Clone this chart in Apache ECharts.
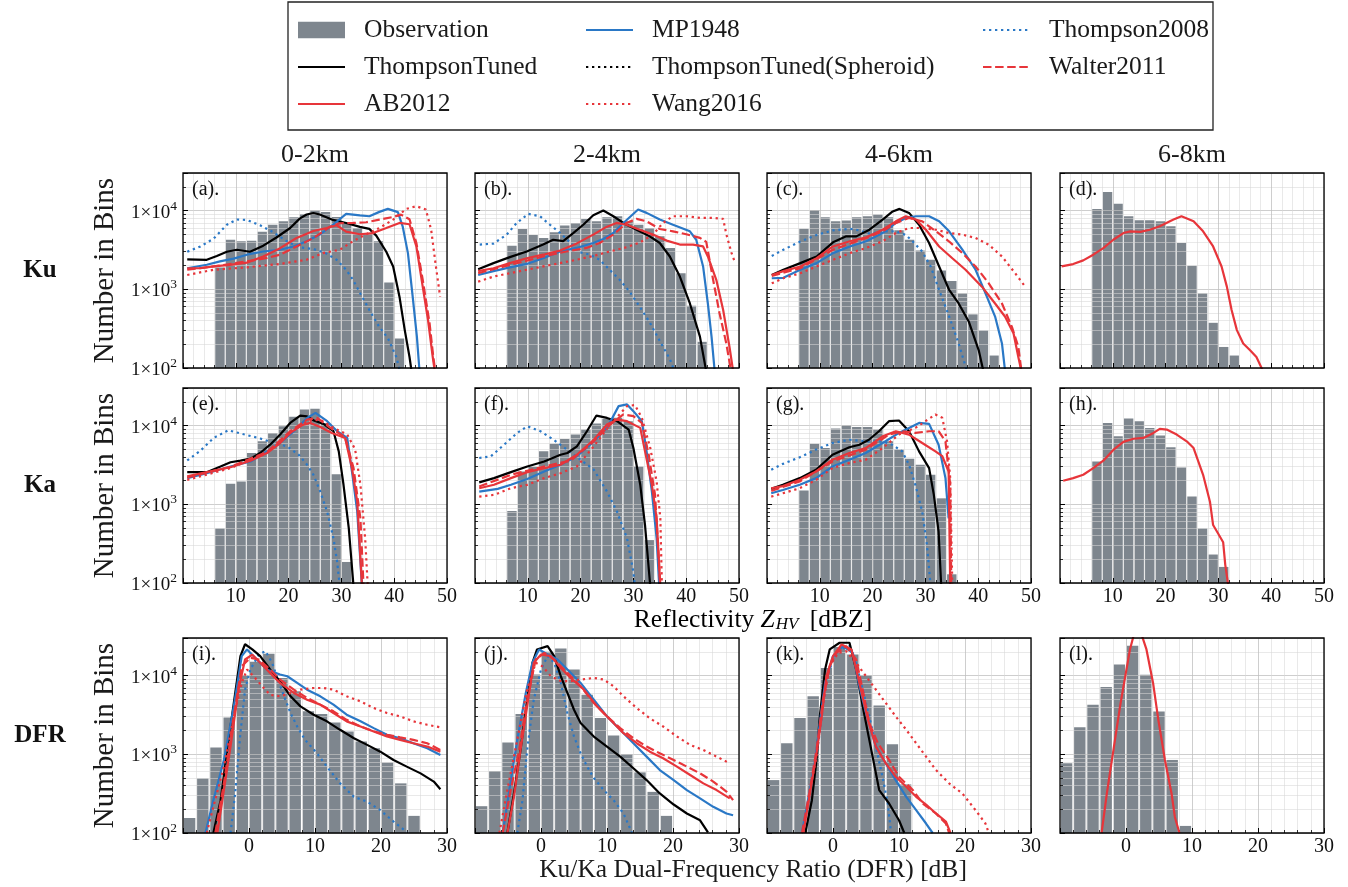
<!DOCTYPE html>
<html>
<head>
<meta charset="utf-8">
<script src="https://cdn.jsdelivr.net/npm/echarts@6/dist/echarts.min.js"></script>
<style>
  html, body { margin: 0; padding: 0; background: #ffffff; }
  #chart { width: 1348px; height: 887px; }
</style>
</head>
<body>
<div id="chart"></div>
<script>
// ---------- histogram bin centres ----------
const zBinCentres = [7, 9, 11, 13, 15, 17, 19, 21, 23, 25, 27, 29, 31, 33, 35, 37, 39, 41, 43];
const dfrBinCentres = [-9, -7, -5, -3, -1, 1, 3, 5, 7, 9, 11, 13, 15, 17, 19, 21, 23, 25, 27];

// ---------- observed counts (one value per bin, starting at the first centre) ----------
const obsKu02 = [1890, 4270, 4080, 4150, 5370, 6600, 7300, 8220, 9060, 10000, 9620, 8300, 6970, 6010, 5190, 4070, 1217, 237];
const obsKu24 = [3570, 5830, 4890, 4480, 5290, 6440, 6970, 7830, 7310, 8230, 8470, 7310, 6620, 6010, 4700, 3340, 1600, 618, 215];
const obsKu46 = [5890, 10090, 8230, 7310, 7450, 8230, 8470, 8890, 8200, 5610, 4270, 3120, 2370, 1730, 1276, 889, 480, 300, 144];
const obsKu68 = [10500, 17150, 12160, 8470, 7530, 7530, 7310, 6310, 3865, 1990, 889, 375, 185, 144];
const obsKa02 = [494, 1820, 1945, 4480, 6310, 8050, 9800, 12900, 16000, 16330, 10810, 2415, 185];
const obsKa24 = [822, 2600, 3000, 4700, 5890, 6760, 7680, 8890, 10600, 12160, 12530, 11360, 3030, 351];
const obsKa46 = [1500, 5890, 5190, 9170, 10000, 9620, 9620, 8940, 6310, 4950, 3800, 3170, 2366, 1190, 129];
const obsKa68 = [3505, 10800, 7310, 12280, 11360, 9340, 7450, 5290, 2940, 1253, 494, 230, 160];
const obsDfr02 = [155, 494, 1217, 2940, 10000, 15000, 18900, 9340, 6310, 3510, 3245, 2540, 1945, 1452, 1194, 784, 427, 165];
const obsDfr24 = [219, 612, 1408, 3245, 10300, 20000, 22000, 11930, 5710, 2880, 1730, 1000, 589, 333, 165];
const obsDfr46 = [470, 1380, 2880, 5450, 12500, 23000, 18500, 10000, 4180, 1343, 414];
const obsDfr68 = [767, 2210, 4260, 7180, 13800, 24000, 10270, 3500, 847, 123];

// ---------- simulated distributions: [x, count] ----------
// Ku 0-2 km
const ku02_Thompson2008 = [[0.8,3000],[3.3,3500],[5.8,4400],[8.3,6600],[10.2,7700],[12.1,7600],[14.6,6500],[17.1,5300],[19.6,4100],[22.1,3400],[24.7,3250],[27.0,2880],[29.1,2370],[30.9,1770],[32.2,1320],[33.8,830],[35.3,545],[37.2,330],[38.8,240],[40.4,138],[41.1,90]];
const ku02_ThompsonTuned = [[0.8,2400],[4.5,2370],[6.4,2650],[8.3,3000],[10.2,3180],[12.7,3000],[15.2,3580],[17.7,4550],[20.3,6000],[22.1,7900],[23.4,8900],[24.7,9300],[25.9,8900],[28.4,7600],[30.9,6960],[33.5,6200],[35.3,5850],[36.6,4800],[38.5,3000],[39.8,1950],[41.0,805],[42.0,303],[42.9,138],[43.3,90]];
const ku02_MP1948 = [[0.8,1850],[4.5,2050],[7.0,2260],[9.6,2450],[12.1,2750],[15.2,3020],[18.4,3180],[20.9,3500],[23.4,4080],[25.9,4950],[28.4,6600],[30.9,9070],[33.5,8700],[35.3,8470],[37.2,9620],[38.8,10500],[40.7,9560],[41.6,6310],[42.6,2880],[43.5,805],[44.3,249],[44.8,90]];
const ku02_AB2012 = [[0.8,1850],[3.3,1850],[5.8,1950],[8.9,2040],[12.1,2180],[15.2,2610],[18.4,3330],[21.5,4480],[24.7,5500],[27.2,6000],[29.1,6500],[30.9,5400],[33.5,5000],[36.0,5180],[38.5,6000],[41.0,6960],[42.9,6700],[44.2,3500],[45.4,1080],[46.4,410],[47.3,138],[47.7,90]];
const ku02_Walter2011 = [[0.8,1770],[5.8,1950],[12.1,2260],[15.9,2500],[18.4,2750],[21.5,3500],[24.7,4480],[27.8,6200],[29.7,6900],[32.2,6960],[34.7,7100],[37.2,7680],[39.8,8300],[41.3,8880],[42.9,7750],[44.2,3870],[45.4,1320],[46.7,370],[47.4,138],[47.8,90]];
const ku02_Wang2016 = [[0.8,1520],[5.8,1770],[12.1,1900],[18.4,2100],[23.4,2370],[26.5,2880],[29.7,3180],[32.2,4080],[34.7,5000],[37.2,6000],[39.8,7680],[42.3,10500],[44.2,11360],[46.0,10300],[47.0,5700],[47.9,1950],[48.7,805]];
// Ku 2-4 km
const ku24_Thompson2008 = [[0.9,3700],[3.5,3800],[6.0,4950],[7.9,6960],[10.1,9070],[12.3,8470],[14.2,6600],[16.1,5200],[18.0,3940],[19.9,2950],[21.8,2750],[23.6,2370],[25.5,1770],[27.4,1320],[29.3,930],[31.2,600],[33.1,380],[35.0,220],[36.9,130],[37.8,90]];
const ku24_ThompsonTuned = [[0.6,1800],[3.5,2150],[6.6,2560],[9.8,3020],[12.9,3700],[14.8,4260],[16.7,4080],[18.6,5180],[20.5,6600],[22.4,8700],[24.3,10000],[26.2,8470],[28.1,6960],[30.6,5700],[33.1,4700],[35.0,3870],[36.9,2610],[38.8,1450],[40.7,660],[42.6,250],[43.8,90]];
const ku24_MP1948 = [[0.6,1520],[3.5,1700],[6.6,1900],[9.8,2100],[12.9,2480],[16.1,3020],[19.2,3350],[22.4,3870],[24.3,4360],[26.2,5180],[28.1,6960],[29.6,8600],[30.9,10300],[32.5,9340],[35.0,7680],[37.5,6600],[40.7,5450],[41.9,4260],[43.2,1950],[44.1,660],[44.8,250],[45.4,90]];
const ku24_AB2012 = [[0.6,1700],[3.5,1850],[6.6,2150],[9.8,2480],[12.9,2750],[16.1,3100],[19.2,3800],[22.4,4950],[24.9,6200],[26.8,6960],[28.7,6600],[31.2,5700],[33.7,4950],[36.3,4150],[38.8,3700],[41.3,3700],[43.2,3500],[44.1,2610],[45.7,1320],[47.0,545],[48.2,185],[48.9,90]];
const ku24_Walter2011 = [[0.6,1600],[6.6,2040],[12.9,2610],[17.3,3020],[21.1,3350],[23.6,3870],[26.2,4950],[28.7,6960],[30.6,7840],[32.5,7300],[35.0,5830],[37.5,5450],[40.0,5000],[42.6,4500],[43.8,4000],[45.1,1320],[46.3,500],[47.6,205],[48.5,90]];
const ku24_Wang2016 = [[0.6,1250],[3.5,1450],[6.6,1600],[9.8,1770],[12.9,1950],[16.1,2150],[19.2,2370],[22.4,2650],[25.5,3020],[28.7,3420],[31.2,3920],[33.7,4950],[35.6,6960],[37.5,8470],[40.0,8470],[42.6,8060],[45.1,8060],[47.0,7840],[47.6,5000],[48.6,2880],[49.2,2220]];
// Ku 4-6 km
const ku46_Thompson2008 = [[0.9,2650],[3.1,3180],[6.3,4040],[9.4,4900],[12.5,5600],[15.7,5870],[17.5,5600],[19.4,5080],[21.9,5450],[24.4,5450],[26.3,4900],[27.6,4040],[29.4,3020],[31.0,1950],[32.6,980],[34.5,450],[36.3,205],[37.9,90]];
const ku46_ThompsonTuned = [[0.9,1520],[3.1,1770],[6.3,2150],[9.4,2610],[12.5,3950],[15.0,4700],[16.9,4700],[19.4,5710],[21.9,7680],[23.8,9750],[25.1,10500],[26.9,9340],[28.8,6600],[30.7,3870],[32.6,1950],[34.5,980],[36.3,660],[38.2,390],[40.1,168],[41.0,90]];
const ku46_MP1948 = [[0.9,1380],[3.1,1400],[6.3,1770],[9.4,2150],[12.5,2880],[15.7,3500],[18.8,4080],[21.9,5180],[24.4,6960],[26.3,8060],[28.2,8470],[30.7,8470],[32.6,7300],[34.5,5450],[37.0,3180],[39.5,1770],[41.4,880],[43.2,450],[44.5,205],[45.1,90]];
const ku46_AB2012 = [[0.9,1520],[3.1,1700],[6.3,1950],[9.4,2480],[12.5,3500],[15.7,4080],[18.8,4570],[21.9,5710],[24.4,7300],[26.3,8470],[28.2,7680],[30.1,5710],[32.6,3500],[35.1,2480],[37.6,1770],[40.7,1080],[43.2,660],[45.1,448],[46.7,275],[47.6,138],[48.2,90]];
const ku46_Walter2011 = [[0.9,1480],[6.3,1850],[12.5,3180],[18.8,4480],[21.9,5450],[24.4,6960],[26.9,8060],[29.4,7300],[32.0,5450],[34.5,4040],[37.0,2880],[39.5,1950],[42.0,1190],[44.5,660],[46.4,330],[47.6,185],[48.2,90]];
const ku46_Wang2016 = [[0.9,1190],[3.1,1380],[6.3,1600],[9.4,1950],[12.5,2370],[15.7,2880],[18.8,3350],[21.9,4080],[24.4,5180],[26.9,6000],[29.4,6000],[32.0,5710],[34.5,5180],[37.0,4950],[39.5,4480],[42.0,3680],[44.5,2610],[47.0,1600],[48.9,1080]];
// Ku 6-8 km (all schemes coincide)
const ku68_AB2012 = [[0.3,1950],[2.5,2090],[4.4,2330],[6.3,2750],[8.2,3340],[10.1,4260],[12.0,5180],[13.3,5450],[15.2,5350],[17.0,5710],[18.9,6310],[21.5,7680],[23.0,8470],[25.3,7300],[27.1,5450],[29.0,3500],[30.6,1950],[31.6,1080],[32.5,545],[33.5,303],[34.7,205],[36.0,168],[37.2,138],[38.5,90]];
// Ka 0-2 km
const ka02_Thompson2008 = [[0.8,3600],[3.3,4800],[5.8,6960],[8.6,8700],[11.5,7750],[14.6,6860],[17.2,6000],[19.7,5450],[21.9,4260],[23.5,3180],[24.7,2370],[26.0,1450],[27.3,805],[28.5,368],[29.2,185],[29.7,90]];
const ka02_ThompsonTuned = [[0.8,2560],[4.5,2560],[7.1,3020],[9.0,3420],[10.9,3580],[12.8,3800],[14.6,4480],[16.5,5710],[18.4,7680],[20.3,10800],[22.2,13400],[23.5,13100],[24.8,11600],[26.6,10500],[28.5,8470],[29.5,4700],[30.4,1770],[31.4,495],[32.3,90]];
const ka02_MP1948 = [[0.8,2150],[4.5,2480],[9.0,3020],[12.8,3500],[15.9,4700],[18.4,6000],[21.0,8470],[23.5,12500],[25.1,14500],[27.3,11360],[29.2,8470],[31.1,6960],[32.0,2610],[33.0,805],[33.9,90]];
const ka02_AB2012 = [[0.8,2260],[4.5,2560],[9.0,2950],[12.8,3580],[15.9,4480],[18.4,6000],[20.3,8060],[22.5,10100],[24.1,10800],[26.0,9560],[28.2,8060],[30.7,6960],[32.0,2880],[33.0,1080],[33.9,90]];
const ka02_Walter2011 = [[0.8,2190],[9.0,3000],[15.9,4600],[20.3,8470],[23.5,11900],[25.4,12500],[27.9,9340],[30.7,7100],[32.3,2880],[33.6,660],[34.2,90]];
const ka02_Wang2016 = [[0.8,2040],[9.0,2880],[15.9,4480],[20.3,8060],[23.5,11360],[26.0,11900],[28.5,9340],[31.1,7680],[32.6,5000],[33.6,1770],[34.5,368],[35.0,90]];
// Ka 2-4 km
const ka24_Thompson2008 = [[0.8,3870],[3.0,4060],[5.5,5710],[8.0,8060],[9.9,9800],[12.4,8470],[14.9,6600],[17.5,4900],[20.0,3680],[22.5,2750],[25.0,1450],[26.9,805],[28.8,368],[30.0,138],[30.3,90]];
const ka24_ThompsonTuned = [[0.8,1900],[3.6,2150],[6.8,2560],[9.9,3020],[13.1,3500],[16.2,4260],[17.5,4480],[19.3,5450],[21.2,8470],[23.0,13400],[25.0,12500],[26.9,11360],[29.1,8900],[30.0,5180],[31.3,1770],[32.2,545],[33.2,90]];
const ka24_MP1948 = [[0.8,1450],[4.3,1570],[6.8,1770],[9.9,2100],[13.1,2610],[16.2,3180],[19.3,4080],[22.5,6310],[25.0,9340],[27.2,17650],[28.8,18540],[30.0,15240],[31.6,11360],[32.5,4700],[33.5,1450],[34.4,368],[34.9,90]];
const ka24_AB2012 = [[0.8,1600],[3.6,1770],[6.8,2150],[9.9,2560],[13.1,2880],[16.2,3180],[19.3,4260],[22.5,6600],[25.0,10300],[26.9,11900],[28.8,11360],[31.3,9340],[32.2,4700],[33.5,1770],[34.4,662],[35.1,90]];
const ka24_Walter2011 = [[0.8,1680],[6.8,2370],[13.1,3020],[18.1,3580],[22.5,6310],[25.6,10300],[28.1,13820],[30.0,13200],[31.6,10800],[32.9,4260],[34.1,1316],[35.1,90]];
const ka24_Wang2016 = [[0.8,1250],[3.6,1316],[6.8,1600],[9.9,1766],[13.1,2150],[16.2,2480],[19.3,3020],[22.5,5450],[25.6,10300],[28.8,17650],[30.3,18200],[31.6,12530],[33.2,5180],[34.4,1950],[35.1,662],[35.4,90]];
// Ka 4-6 km
const ka46_Thompson2008 = [[0.8,2750],[3.0,3260],[6.2,3950],[9.3,4950],[12.4,6000],[15.6,6600],[18.7,6310],[21.9,6310],[23.7,5710],[25.6,4700],[26.9,3180],[28.1,1766],[29.4,805],[30.3,303],[31.0,90]];
const ka46_ThompsonTuned = [[0.8,1570],[3.0,1770],[6.2,2150],[9.3,2750],[12.4,4260],[15.6,5300],[17.5,5710],[19.3,6600],[21.2,8470],[23.1,11360],[25.0,11600],[26.9,8470],[28.8,4700],[30.7,2880],[31.6,1316],[32.5,448],[33.0,90]];
const ka46_MP1948 = [[0.8,1380],[3.0,1520],[6.2,1770],[9.3,2150],[12.4,3020],[15.6,3680],[18.7,4480],[21.9,6000],[25.0,8060],[26.9,9340],[28.8,10800],[30.7,10500],[32.5,5710],[33.8,2150],[34.4,662]];
const ka46_AB2012 = [[0.8,1600],[3.0,1700],[6.2,2050],[9.3,2610],[12.4,3680],[15.6,4480],[18.7,5180],[21.9,7300],[24.4,8470],[26.9,7680],[29.4,6000],[31.9,4700],[33.2,4080],[34.4,2610],[34.7,90]];
const ka46_Walter2011 = [[0.8,1480],[6.2,1950],[12.4,3500],[18.7,4950],[23.1,7680],[25.6,8470],[28.1,8060],[30.7,8470],[32.5,8470],[33.8,6310],[34.7,1766],[34.9,90]];
const ka46_Wang2016 = [[0.8,1250],[3.0,1380],[6.2,1600],[9.3,2040],[12.4,2880],[15.6,3340],[18.7,3680],[21.9,5180],[25.0,7680],[28.1,9340],[30.0,11360],[31.9,13820],[33.2,12530],[34.1,6310],[34.7,2150],[35.1,90]];
// Ka 6-8 km (all schemes coincide)
const ka68_AB2012 = [[0.6,1990],[2.5,2150],[4.4,2370],[6.3,2880],[8.2,3580],[10.1,4900],[12.0,6200],[13.9,6800],[15.8,6960],[17.7,8060],[18.9,9070],[20.2,8900],[22.1,7680],[24.0,6310],[25.3,5180],[27.1,2370],[28.4,1080],[29.0,545],[30.0,420],[30.9,330],[31.3,170],[31.9,90]];
// DFR 0-2 km
const dfr02_Thompson2008 = [[-2.8,100],[-2.1,318],[-1.3,1854],[-0.6,6620],[0.2,11930],[1.5,18500],[2.5,20400],[3.5,14510],[4.2,9800],[5.3,5450],[6.3,3340],[7.3,2254],[8.5,1524],[10.3,1030],[11.8,697],[13.8,427],[15.9,288],[17.9,250],[19.9,195],[21.9,140],[23.9,103]];
const dfr02_ThompsonTuned = [[-5.4,100],[-4.3,261],[-3.3,1135],[-2.3,4480],[-1.3,17650],[-0.6,25000],[0.5,21470],[1.7,17650],[3.2,11930],[4.7,8470],[6.3,5450],[7.8,4060],[9.8,3180],[11.8,2620],[13.8,2046],[15.9,1600],[17.9,1316],[19.9,1080],[21.9,847],[23.9,697],[26.0,572],[28.0,450],[29.0,360]];
const dfr02_MP1948 = [[-6.6,100],[-5.4,261],[-3.8,847],[-2.3,4060],[-1.1,17650],[-0.3,21470],[1.2,16000],[2.7,11930],[4.7,10300],[5.8,9800],[7.3,8060],[8.8,6620],[10.8,5450],[12.8,4270],[14.8,3180],[16.9,2620],[18.9,2150],[20.9,1770],[22.9,1600],[24.9,1380],[27.0,1190],[29.0,980]];
const dfr02_AB2012 = [[-4.8,100],[-3.8,351],[-2.8,1253],[-1.6,6620],[-0.6,16000],[0.5,18400],[1.7,14510],[3.2,10820],[4.7,8060],[6.8,6010],[8.8,4940],[10.8,4270],[12.8,3340],[14.8,2620],[16.9,2254],[18.9,1950],[20.9,1680],[22.9,1524],[24.9,1380],[27.0,1253],[29.0,1080]];
const dfr02_Walter2011 = [[-5.1,100],[-3.8,427],[-2.3,3030],[-1.1,13160],[0.2,16800],[1.5,16000],[3.2,11930],[4.7,8890],[6.8,6620],[8.8,5200],[10.8,4270],[12.8,3510],[14.8,2740],[16.9,2254],[18.9,1950],[20.9,1770],[22.9,1640],[24.9,1524],[27.0,1380],[29.0,1135]];
const dfr02_Wang2016 = [[-6.4,100],[-5.4,215],[-3.8,697],[-2.3,3030],[-1.1,8060],[-0.3,11930],[0.7,9800],[2.0,7310],[3.2,5700],[4.7,5450],[6.3,6010],[7.8,6620],[9.8,6950],[11.3,6950],[12.8,6620],[14.8,5450],[16.9,4700],[18.9,3870],[20.9,3340],[22.9,3030],[24.9,2620],[27.0,2370],[29.0,2200]];
// DFR 2-4 km
const dfr24_Thompson2008 = [[-3.6,100],[-2.8,261],[-2.1,1135],[-1.1,4940],[0.0,11930],[1.0,17650],[2.0,14510],[3.0,8060],[4.0,3340],[5.0,1682],[6.0,1030],[7.0,697],[8.0,500],[9.5,351],[11.0,261],[12.5,177],[13.8,100]];
const dfr24_ThompsonTuned = [[-5.1,100],[-4.1,318],[-3.1,1135],[-2.1,4940],[-1.3,14510],[-0.6,21470],[1.0,23650],[2.0,17650],[3.0,9800],[4.0,6010],[5.0,3680],[6.0,2490],[8.0,1682],[10.0,1253],[12.0,934],[14.0,665],[16.0,470],[18.0,318],[20.1,230],[22.1,177],[24.1,145],[25.3,102]];
const dfr24_MP1948 = [[-5.8,100],[-4.8,351],[-3.6,1524],[-2.3,6010],[-1.3,14510],[-0.3,21470],[1.0,18500],[2.5,16000],[4.0,11930],[6.0,8060],[8.0,4940],[10.0,3030],[12.0,2046],[14.0,1381],[16.0,934],[18.0,631],[20.1,470],[22.1,351],[24.1,275],[26.1,215],[28.1,177],[29.1,168]];
const dfr24_AB2012 = [[-5.1,100],[-4.1,288],[-3.1,1135],[-2.1,4060],[-1.1,14510],[0.0,18500],[1.5,17650],[3.0,12500],[4.5,9300],[6.5,6620],[8.5,4060],[10.5,2740],[12.5,1854],[14.5,1381],[16.5,1080],[18.5,890],[20.6,697],[22.6,545],[24.6,427],[26.6,351],[28.6,275]];
const dfr24_Walter2011 = [[-5.8,100],[-4.6,351],[-3.3,1135],[-2.1,4940],[-0.8,16000],[0.5,19450],[2.0,16000],[4.0,10820],[6.0,7310],[8.0,4480],[10.0,3030],[12.0,2150],[14.0,1600],[16.0,1253],[18.0,1030],[20.1,847],[22.1,697],[24.1,572],[26.1,450],[28.1,336],[29.1,261]];
const dfr24_Wang2016 = [[-6.3,100],[-5.1,351],[-3.6,1524],[-2.1,6620],[-0.8,14510],[0.2,13160],[1.5,9800],[3.0,8500],[4.5,8500],[6.0,8890],[8.0,9340],[9.5,8890],[11.0,7310],[12.5,5450],[14.5,3870],[16.5,2860],[18.5,2254],[20.6,1682],[22.6,1310],[24.6,1135],[26.6,934],[28.6,767]];
// DFR 4-6 km
const dfr46_Thompson2008 = [[-4.7,100],[-3.5,318],[-2.5,934],[-1.7,3030],[-1.0,8890],[0.0,16000],[1.0,21470],[2.5,23650],[3.5,14510],[4.5,6620],[5.5,3030],[6.5,1253],[7.5,518],[8.3,237],[8.8,100]];
const dfr46_ThompsonTuned = [[-4.2,100],[-3.2,261],[-2.5,847],[-2.0,3030],[-1.2,11930],[-0.5,21470],[1.0,26100],[2.5,26100],[3.5,11930],[4.5,4060],[5.5,1524],[7.0,351],[8.5,237],[10.0,145],[10.8,100]];
const dfr46_MP1948 = [[-4.7,100],[-3.7,288],[-2.7,847],[-2.0,2490],[-1.2,8060],[0.0,17650],[1.5,23650],[3.0,19450],[4.0,7310],[5.0,3340],[6.5,1253],[8.0,767],[9.5,470],[11.1,288],[12.6,195],[14.1,132],[15.1,100]];
const dfr46_AB2012 = [[-4.5,100],[-3.5,318],[-2.5,1030],[-1.7,3030],[-1.0,9800],[0.0,17650],[1.3,24800],[2.8,21470],[4.0,8060],[5.3,2740],[6.5,1253],[8.0,767],[9.5,518],[11.1,386],[12.6,288],[14.1,230],[15.6,177],[17.1,140],[17.8,100]];
const dfr46_Walter2011 = [[-4.7,100],[-3.5,351],[-2.5,1135],[-1.5,4940],[-0.5,13160],[0.5,19450],[2.0,23650],[3.5,16000],[4.5,6620],[5.5,2490],[6.8,1381],[8.5,847],[10.0,518],[12.1,351],[13.6,237],[15.6,177],[17.1,132],[17.6,100]];
const dfr46_Wang2016 = [[-4.5,100],[-3.5,351],[-2.5,934],[-1.5,4480],[-0.5,13160],[0.8,19450],[2.0,20400],[3.5,14510],[5.0,9800],[6.5,6620],[8.0,4480],[9.5,3030],[11.1,2046],[12.6,1381],[14.1,934],[15.6,631],[17.6,427],[19.6,318],[21.6,195],[23.1,132],[23.6,100]];
// DFR 6-8 km (all schemes coincide)
const dfr68_AB2012 = [[-3.7,100],[-2.9,318],[-1.9,1135],[-0.9,4060],[-0.2,8890],[0.6,21470],[1.4,38600],[2.1,38600],[3.1,21470],[4.1,8060],[4.9,2740],[5.9,847],[6.9,318],[7.4,160],[8.1,100]];

// ---------- text ----------
const columnTitles = ['0-2km', '2-4km', '4-6km', '6-8km'];
const rowTitles = ['Ku', 'Ka', 'DFR'];
const panelLetters = ['(a).', '(b).', '(c).', '(d).', '(e).', '(f).', '(g).', '(h).', '(i).', '(j).', '(k).', '(l).'];

// ---------- layout & style ----------
const FONT = 'Liberation Serif';
const GRID_LEFT = [183, 475, 767, 1060];
const GRID_TOP = [173, 388, 638];
const GRID_W = 264, GRID_H = 195;
const BLACK = '#000000', BLUE = '#2a78c6', RED = '#e7353a', BAR = '#7e868e';
const DOT = [2.3, 3.7], DASH = [8.5, 3.6];

const modelStyle = {
  'ThompsonTuned': { color: BLACK, type: 'solid' },
  'MP1948': { color: BLUE, type: 'solid' },
  'Thompson2008': { color: BLUE, type: DOT },
  'AB2012': { color: RED, type: 'solid' },
  'Wang2016': { color: RED, type: DOT },
  'Walter2011': { color: RED, type: DASH },
  'ThompsonTuned(Spheroid)': { color: BLACK, type: DOT }
};
const drawOrder = ['Thompson2008', 'ThompsonTuned', 'MP1948', 'Wang2016', 'Walter2011', 'AB2012'];

const panels = [
  { row: 0, col: 0, obs: obsKu02, lines: { Thompson2008: ku02_Thompson2008, ThompsonTuned: ku02_ThompsonTuned, MP1948: ku02_MP1948, Wang2016: ku02_Wang2016, Walter2011: ku02_Walter2011, AB2012: ku02_AB2012 } },
  { row: 0, col: 1, obs: obsKu24, lines: { Thompson2008: ku24_Thompson2008, ThompsonTuned: ku24_ThompsonTuned, MP1948: ku24_MP1948, Wang2016: ku24_Wang2016, Walter2011: ku24_Walter2011, AB2012: ku24_AB2012 } },
  { row: 0, col: 2, obs: obsKu46, lines: { Thompson2008: ku46_Thompson2008, ThompsonTuned: ku46_ThompsonTuned, MP1948: ku46_MP1948, Wang2016: ku46_Wang2016, Walter2011: ku46_Walter2011, AB2012: ku46_AB2012 } },
  { row: 0, col: 3, obs: obsKu68, lines: { AB2012: ku68_AB2012 } },
  { row: 1, col: 0, obs: obsKa02, lines: { Thompson2008: ka02_Thompson2008, ThompsonTuned: ka02_ThompsonTuned, MP1948: ka02_MP1948, Wang2016: ka02_Wang2016, Walter2011: ka02_Walter2011, AB2012: ka02_AB2012 } },
  { row: 1, col: 1, obs: obsKa24, lines: { Thompson2008: ka24_Thompson2008, ThompsonTuned: ka24_ThompsonTuned, MP1948: ka24_MP1948, Wang2016: ka24_Wang2016, Walter2011: ka24_Walter2011, AB2012: ka24_AB2012 } },
  { row: 1, col: 2, obs: obsKa46, lines: { Thompson2008: ka46_Thompson2008, ThompsonTuned: ka46_ThompsonTuned, MP1948: ka46_MP1948, Wang2016: ka46_Wang2016, Walter2011: ka46_Walter2011, AB2012: ka46_AB2012 } },
  { row: 1, col: 3, obs: obsKa68, lines: { AB2012: ka68_AB2012 } },
  { row: 2, col: 0, obs: obsDfr02, lines: { Thompson2008: dfr02_Thompson2008, ThompsonTuned: dfr02_ThompsonTuned, MP1948: dfr02_MP1948, Wang2016: dfr02_Wang2016, Walter2011: dfr02_Walter2011, AB2012: dfr02_AB2012 } },
  { row: 2, col: 1, obs: obsDfr24, lines: { Thompson2008: dfr24_Thompson2008, ThompsonTuned: dfr24_ThompsonTuned, MP1948: dfr24_MP1948, Wang2016: dfr24_Wang2016, Walter2011: dfr24_Walter2011, AB2012: dfr24_AB2012 } },
  { row: 2, col: 2, obs: obsDfr46, lines: { Thompson2008: dfr46_Thompson2008, ThompsonTuned: dfr46_ThompsonTuned, MP1948: dfr46_MP1948, Wang2016: dfr46_Wang2016, Walter2011: dfr46_Walter2011, AB2012: dfr46_AB2012 } },
  { row: 2, col: 3, obs: obsDfr68, lines: { AB2012: dfr68_AB2012 } }
];

const grids = [], xAxes = [], yAxes = [], series = [];

panels.forEach((p, i) => {
  const isZ = p.row < 2;
  grids.push({
    left: GRID_LEFT[p.col], top: GRID_TOP[p.row], width: GRID_W, height: GRID_H,
    show: true, borderColor: '#000', borderWidth: 1.3, backgroundColor: 'rgba(0,0,0,0)', z: 5
  });
  xAxes.push({
    gridIndex: i, type: 'value', min: isZ ? 0 : -10, max: isZ ? 50 : 30, interval: 10, z: 2,
    axisLine: { show: false, onZero: false },
    axisTick: { show: true, inside: true, length: 5, lineStyle: { color: '#000', width: 1 } },
    minorTick: { show: true, splitNumber: 5, length: 3, lineStyle: { color: '#000', width: 0.8 } },
    splitLine: { show: true, lineStyle: { color: 'rgba(190,190,190,0.75)', width: 1 } },
    minorSplitLine: { show: true, lineStyle: { color: 'rgba(215,215,215,0.55)', width: 1 } },
    axisLabel: {
      show: p.row > 0, showMinLabel: false, margin: 4,
      fontFamily: FONT, fontSize: 20, color: '#111'
    }
  });
  yAxes.push({
    gridIndex: i, type: 'log', logBase: 10, min: 100, max: 30000, startValue: 100, z: 2,
    axisLine: { show: false, onZero: false },
    axisTick: { show: true, inside: true, length: 5, lineStyle: { color: '#000', width: 1 } },
    minorTick: { show: true, splitNumber: 9, length: 3, lineStyle: { color: '#000', width: 0.8 } },
    splitLine: { show: true, lineStyle: { color: 'rgba(190,190,190,0.75)', width: 1 } },
    minorSplitLine: { show: true, lineStyle: { color: 'rgba(215,215,215,0.55)', width: 1 } },
    axisLabel: {
      show: p.col === 0, showMaxLabel: false, margin: 6,
      formatter: v => '{m|1×10}{e|' + Math.round(Math.log10(v)) + '}',
      rich: {
        m: { fontFamily: FONT, fontSize: 19, color: '#111', verticalAlign: 'bottom' },
        e: { fontFamily: FONT, fontSize: 13.5, color: '#111', verticalAlign: 'bottom', padding: [0, 0, 9, 0] }
      }
    }
  });
  const centres = isZ ? zBinCentres : dfrBinCentres;
  series.push({
    type: 'bar', name: 'Observation', xAxisIndex: i, yAxisIndex: i,
    data: p.obs.map((v, k) => [centres[k], v]),
    barWidth: isZ ? 9.4 : 11.4, itemStyle: { color: BAR }, silent: true, z: 1
  });
  drawOrder.forEach(name => {
    if (!p.lines[name]) return;
    const st = modelStyle[name];
    series.push({
      type: 'line', name, xAxisIndex: i, yAxisIndex: i, data: p.lines[name],
      symbol: 'none', showSymbol: false, silent: true, clip: true, z: 3,
      lineStyle: { color: st.color, width: 2.2, type: st.type, cap: 'butt' },
      itemStyle: { color: st.color }
    });
  });
});

// legend-only entry for the spheroid variant
series.push({
  type: 'line', name: 'ThompsonTuned(Spheroid)', xAxisIndex: 0, yAxisIndex: 0, data: [],
  symbol: 'none', silent: true, z: 3,
  lineStyle: { color: BLACK, width: 2.2, type: DOT }, itemStyle: { color: BLACK }
});

// line handles in the key are drawn without their marker symbol
const legendCommon = {
  orient: 'vertical', top: 17, padding: 0, itemWidth: 47, itemHeight: 16.5, itemGap: 11,
  selectedMode: false,
  itemStyle: { opacity: 0 },
  textStyle: { fontFamily: FONT, fontSize: 25.5, color: '#1a1a1a', padding: [0, 0, 0, 14] }
};

const graphics = [
  { type: 'rect', z: 0, shape: { x: 288, y: 2, width: 925, height: 128 },
    style: { fill: '#fff', stroke: '#222', lineWidth: 1.3 } }
];
columnTitles.forEach((t, c) => graphics.push({
  type: 'text', x: GRID_LEFT[c] + GRID_W / 2, y: 155,
  style: { text: t, fontFamily: FONT, fontSize: 26, fill: '#1a1a1a', textAlign: 'center', textVerticalAlign: 'middle' }
}));
rowTitles.forEach((t, r) => {
  const cy = GRID_TOP[r] + GRID_H / 2;
  graphics.push({
    type: 'text', x: 40, y: cy,
    style: { text: t, fontFamily: FONT, fontSize: 25, fontWeight: 'bold', fill: '#111', textAlign: 'center', textVerticalAlign: 'middle' }
  });
  graphics.push({
    type: 'text', x: 105, y: cy, rotation: Math.PI / 2,
    style: { text: 'Number in Bins', fontFamily: FONT, fontSize: 29, fill: '#1a1a1a', textAlign: 'center', textVerticalAlign: 'middle' }
  });
});
panels.forEach((p, i) => graphics.push({
  type: 'text', x: GRID_LEFT[p.col] + 9, y: GRID_TOP[p.row] + 17, z: 10,
  style: { text: panelLetters[i], fontFamily: FONT, fontSize: 20, fill: '#111', textAlign: 'left', textVerticalAlign: 'middle' }
}));
graphics.push({
  type: 'text', x: 753, y: 620,
  style: {
    text: '{n|Reflectivity }{i|Z}{s|HV}{n| [dBZ]}', textAlign: 'center', textVerticalAlign: 'middle',
    rich: {
      n: { fontFamily: FONT, fontSize: 25.5, color: '#1a1a1a', verticalAlign: 'bottom' },
      i: { fontFamily: FONT, fontSize: 25.5, fontStyle: 'italic', color: '#1a1a1a', verticalAlign: 'bottom' },
      s: { fontFamily: FONT, fontSize: 17, fontStyle: 'italic', color: '#1a1a1a', verticalAlign: 'bottom', padding: [0, 5, 0, 1] }
    }
  }
});
graphics.push({
  type: 'text', x: 753, y: 870,
  style: { text: 'Ku/Ka Dual-Frequency Ratio (DFR) [dB]', fontFamily: FONT, fontSize: 25.5, fill: '#1a1a1a', textAlign: 'center', textVerticalAlign: 'middle' }
});

const chart = echarts.init(document.getElementById('chart'), null, { renderer: 'canvas' });
chart.setOption({
  animation: false,
  backgroundColor: '#ffffff',
  grid: grids,
  xAxis: xAxes,
  yAxis: yAxes,
  legend: [
    Object.assign({}, legendCommon, { left: 297, data: [{ name: 'Observation', icon: 'rect', itemStyle: { opacity: 1 } }, 'ThompsonTuned', 'AB2012'] }),
    Object.assign({}, legendCommon, { left: 585, data: ['MP1948', 'ThompsonTuned(Spheroid)', 'Wang2016'] }),
    Object.assign({}, legendCommon, { left: 982, data: ['Thompson2008', 'Walter2011'] })
  ],
  graphic: graphics,
  series: series
});
</script>
</body>
</html>
